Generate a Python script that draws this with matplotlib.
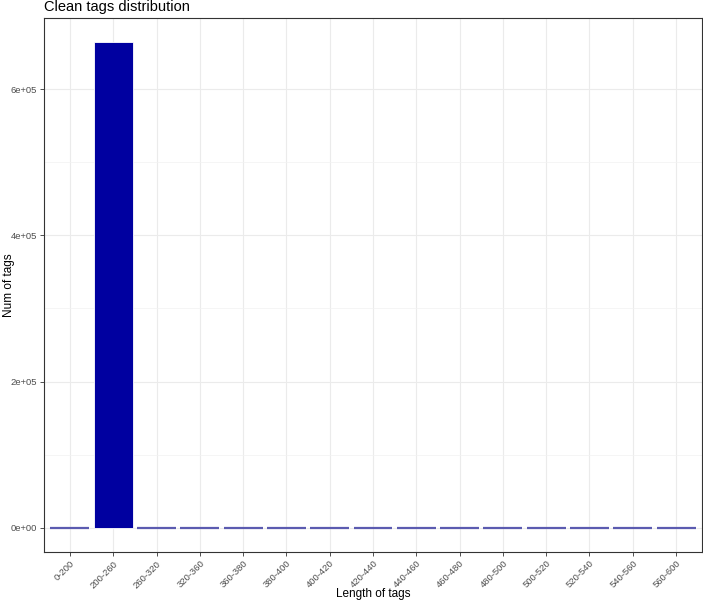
import matplotlib
matplotlib.use("Agg")
import matplotlib.pyplot as plt
from matplotlib.ticker import MultipleLocator, FuncFormatter

categories = ["0-200", "200-260", "260-320", "320-360", "360-380", "380-400",
              "400-420", "420-440", "440-460", "460-480", "480-500", "500-520",
              "520-540", "540-560", "560-600"]
counts = [300, 664000, 300, 300, 300, 300, 300, 300, 300, 300, 300, 300, 300, 300, 300]

plt.rcParams['font.family'] = ['Liberation Sans', 'DejaVu Sans']

fig = plt.figure(figsize=(7.03, 6.01), dpi=100)
W, H = 703, 601
ax = fig.add_axes([44 / W, 1 - 552 / H, (702 - 44) / W, (552 - 18) / H])

x = list(range(len(categories)))
ax.bar(x, counts, width=0.9, color="#0000A0", edgecolor="#ffffff", linewidth=0.6, zorder=3)
# thin outline lines for near-zero bars
for xi, c in zip(x, counts):
    if c < 5000:
        ax.plot([xi - 0.45, xi + 0.45], [c, c], color="#5b5bb0", lw=1.6, zorder=4, solid_capstyle="butt")

ax.set_xlim(-0.6, len(categories) - 1 + 0.6)
ymax = max(counts)
ax.set_ylim(-0.05 * ymax, 1.05 * ymax)

ax.set_xticks(x)
ax.set_xticklabels(categories, rotation=45, ha="right", rotation_mode="anchor",
                   fontsize=6.8, color="#4D4D4D")
ax.yaxis.set_major_locator(MultipleLocator(200000))
ax.yaxis.set_minor_locator(MultipleLocator(100000))
ax.yaxis.set_major_formatter(FuncFormatter(lambda v, p: "0e+00" if v == 0 else "%de+05" % round(v / 1e5)))
ax.tick_params(axis="y", labelsize=6.8, labelcolor="#4D4D4D", color="#333333", length=3, width=0.6, pad=2)
ax.tick_params(axis="x", color="#333333", length=3, width=0.6, pad=2)
ax.tick_params(which="minor", length=0)

ax.grid(True, which="major", color="#EBEBEB", lw=0.8, zorder=0)
ax.grid(True, which="minor", axis="y", color="#F2F2F2", lw=0.5, zorder=0)
ax.set_axisbelow(True)
for s in ax.spines.values():
    s.set_color("#333333")
    s.set_linewidth(0.8)

ax.set_xlabel("Length of tags", fontsize=8.5, color="black", va="center", ha="center")
ax.set_ylabel("Num of tags", fontsize=8.5, color="black", va="center", ha="center")
ax.xaxis.set_label_coords((373 - 44) / 658, -(594 - 552) / 534)
ax.yaxis.set_label_coords(-(44 - 9) / 658, (552 - 285) / 534)
fig.text(44 / W, 1 - 7 / H, "Clean tags distribution", fontsize=10.5, ha="left", va="center")

fig.savefig("out.png", dpi=100)
